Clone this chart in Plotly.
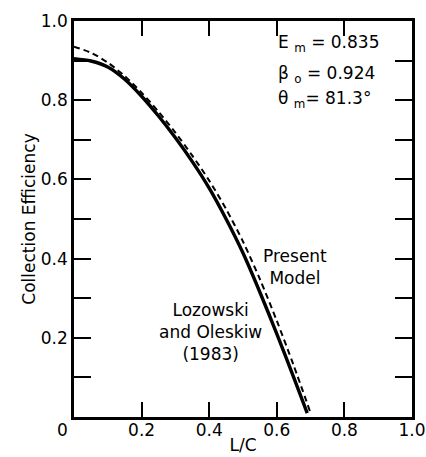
import plotly.graph_objects as go

# Lozowski and Oleskiw (1983) - solid
loz_x = [0, 0.05, 0.1, 0.15, 0.2, 0.25, 0.3, 0.35, 0.4, 0.45, 0.5, 0.55, 0.6, 0.65, 0.69]
loz_y = [0.905, 0.899, 0.884, 0.853, 0.810, 0.760, 0.705, 0.645, 0.578, 0.500, 0.414, 0.315, 0.210, 0.100, 0.01]

# Present Model - dashed
mod_x = [0, 0.05, 0.1, 0.15, 0.2, 0.25, 0.3, 0.35, 0.4, 0.45, 0.5, 0.55, 0.6, 0.65, 0.70]
mod_y = [0.935, 0.920, 0.895, 0.861, 0.819, 0.771, 0.718, 0.660, 0.597, 0.525, 0.443, 0.348, 0.243, 0.130, 0.01]

x_ticks = [0.2, 0.4, 0.6, 0.8, 1.0]
y_ticks = [0.2, 0.4, 0.6, 0.8, 1.0]
tick_text = ["0.2", "0.4", "0.6", "0.8", "1.0"]

FONT = "DejaVu Sans, Liberation Sans, Arial, sans-serif"
FS = 17

fig = go.Figure()
fig.add_trace(go.Scatter(x=mod_x, y=mod_y, mode="lines",
                         line=dict(color="black", width=2, dash="6px,4px", shape="spline", smoothing=0.8)))
fig.add_trace(go.Scatter(x=loz_x, y=loz_y, mode="lines",
                         line=dict(color="black", width=3.4, shape="spline", smoothing=0.8)))

ann = [
    dict(x=0.598, y=0.942, text="E <sub>m</sub> = 0.835", xanchor="left"),
    dict(x=0.598, y=0.866, text="β <sub>o</sub> = 0.924", xanchor="left"),
    dict(x=0.598, y=0.802, text="θ <sub>m</sub>= 81.3°", xanchor="left"),
    dict(x=0.655, y=0.38, text="Present<br>Model", xanchor="center"),
    dict(x=0.405, y=0.215, text="Lozowski<br>and Oleskiw<br>(1983)", xanchor="center"),
]
annotations = []
for a in ann:
    annotations.append(dict(xref="x", yref="y", showarrow=False, yanchor="middle",
                            font=dict(family=FONT, size=FS, color="black"), **a))
annotations.append(dict(xref="paper", yref="paper", x=-0.035, y=-0.033, text="0",
                        showarrow=False, xanchor="center", yanchor="middle",
                        font=dict(family=FONT, size=FS, color="black")))

fig.update_layout(
    width=426, height=457,
    margin=dict(l=74, r=14, t=21, b=40),
    paper_bgcolor="white", plot_bgcolor="white",
    showlegend=False,
    font=dict(family=FONT, size=FS, color="black"),
    annotations=annotations,
    xaxis=dict(range=[0, 1.0], tickvals=x_ticks, ticktext=tick_text,
               ticks="inside", ticklen=15, tickwidth=2, tickcolor="black",
               showline=True, linewidth=2.5, linecolor="black", mirror="ticks",
               showgrid=False, zeroline=False, ticklabelstandoff=-4, automargin=False,
               title=dict(text="L/C", standoff=0, font=dict(size=FS))),
    yaxis=dict(range=[0, 1.0], tickvals=y_ticks, ticktext=tick_text,
               ticks="inside", ticklen=17, tickwidth=2, tickcolor="black",
               minor=dict(dtick=0.1, ticks="inside", ticklen=17, tickwidth=2, tickcolor="black", showgrid=False),
               showline=True, linewidth=2.5, linecolor="black", mirror="ticks",
               showgrid=False, zeroline=False, automargin=False,
               title=dict(text="Collection Efficiency", standoff=1, font=dict(size=FS))),
)

fig.write_html("out.html")
